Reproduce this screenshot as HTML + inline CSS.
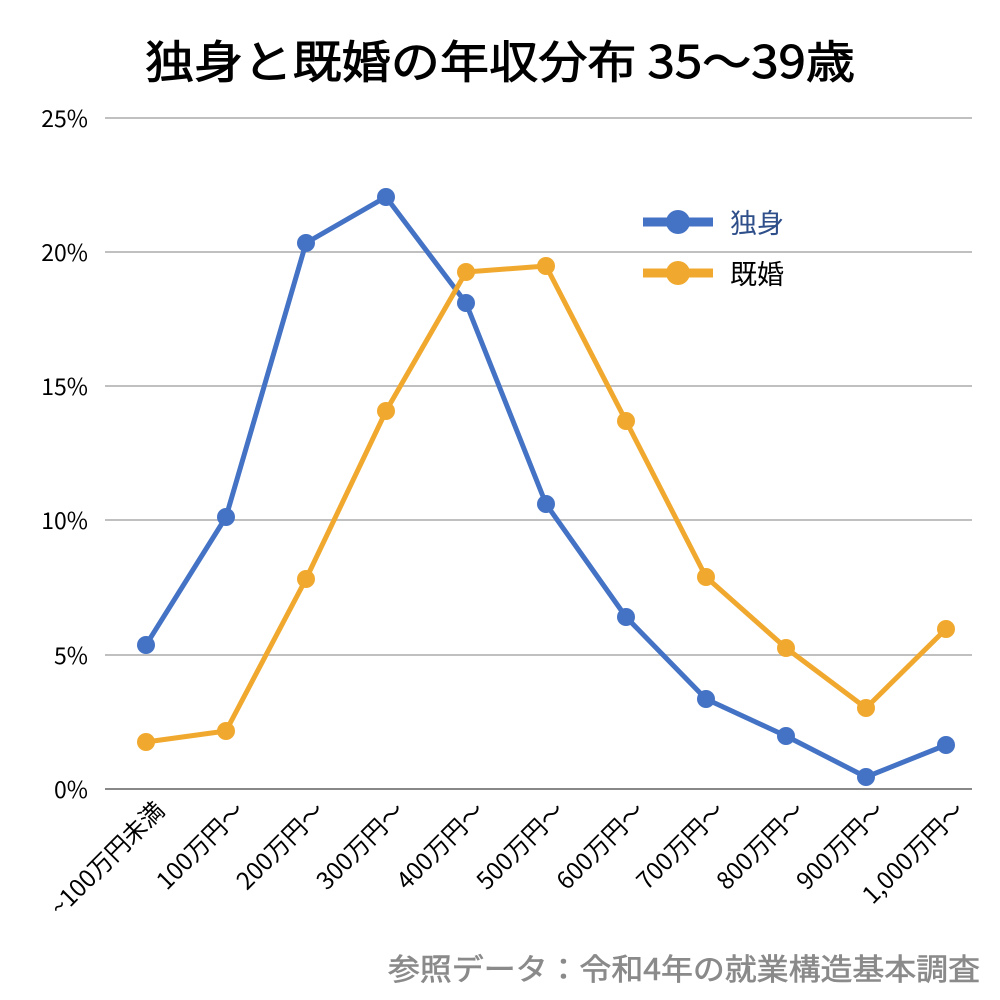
<!DOCTYPE html>
<html><head><meta charset="utf-8"><style>body{margin:0;background:#fff}svg{display:block}text{font-family:"Noto Sans CJK JP","Liberation Sans",sans-serif}</style></head><body>
<svg width="1000" height="1000" viewBox="0 0 1000 1000">
<text x="145" y="78" font-size="45" fill="#000" stroke="#000" stroke-width="0.9" textLength="710" lengthAdjust="spacingAndGlyphs">独身と既婚の年収分布  35〜39歳</text>
<g stroke="#c0c0c0" stroke-width="2">
<line x1="105" y1="118" x2="972" y2="118"/><line x1="105" y1="252" x2="972" y2="252"/><line x1="105" y1="386" x2="972" y2="386"/><line x1="105" y1="520" x2="972" y2="520"/><line x1="105" y1="655" x2="972" y2="655"/>
</g>
<line x1="105" y1="789" x2="972" y2="789" stroke="#888" stroke-width="2"/>
<g font-size="23" text-anchor="end" fill="#000">
<text x="88" y="127">25%</text><text x="88" y="261">20%</text><text x="88" y="395">15%</text><text x="88" y="529">10%</text><text x="88" y="664">5%</text><text x="88" y="798">0%</text>
</g>
<g font-size="24" text-anchor="end" fill="#000">
<text transform="translate(166,812) rotate(-45)">~100万円未満</text>
<text transform="translate(246,812) rotate(-45)">100万円～</text>
<text transform="translate(326,812) rotate(-45)">200万円～</text>
<text transform="translate(406,812) rotate(-45)">300万円～</text>
<text transform="translate(486,812) rotate(-45)">400万円～</text>
<text transform="translate(566,812) rotate(-45)">500万円～</text>
<text transform="translate(646,812) rotate(-45)">600万円～</text>
<text transform="translate(726,812) rotate(-45)">700万円～</text>
<text transform="translate(806,812) rotate(-45)">800万円～</text>
<text transform="translate(886,812) rotate(-45)">900万円～</text>
<text transform="translate(966,812) rotate(-45)">1,000万円～</text>
</g>
<polyline fill="none" stroke="#4472c4" stroke-width="5" stroke-linejoin="round" points="146,645 226,517 306,243 386,197 466,303 546,504 626,617 706,699 786,736 866,777 946,745"/>
<g fill="#4472c4"><circle cx="146" cy="645" r="9"/><circle cx="226" cy="517" r="9"/><circle cx="306" cy="243" r="9"/><circle cx="386" cy="197" r="9"/><circle cx="466" cy="303" r="9"/><circle cx="546" cy="504" r="9"/><circle cx="626" cy="617" r="9"/><circle cx="706" cy="699" r="9"/><circle cx="786" cy="736" r="9"/><circle cx="866" cy="777" r="9"/><circle cx="946" cy="745" r="9"/></g>
<polyline fill="none" stroke="#f0a92e" stroke-width="5" stroke-linejoin="round" points="146,742 226,731 306,579 386,411 466,272 546,266 626,421 706,577 786,648 866,708 946,629"/>
<g fill="#f0a92e"><circle cx="146" cy="742" r="9"/><circle cx="226" cy="731" r="9"/><circle cx="306" cy="579" r="9"/><circle cx="386" cy="411" r="9"/><circle cx="466" cy="272" r="9"/><circle cx="546" cy="266" r="9"/><circle cx="626" cy="421" r="9"/><circle cx="706" cy="577" r="9"/><circle cx="786" cy="648" r="9"/><circle cx="866" cy="708" r="9"/><circle cx="946" cy="629" r="9"/></g>
<line x1="643" y1="222" x2="713" y2="222" stroke="#4472c4" stroke-width="9"/><circle cx="678" cy="222" r="12" fill="#4472c4"/>
<text x="730" y="233" font-size="27" fill="#2f4f8a">独身</text>
<line x1="643" y1="273" x2="713" y2="273" stroke="#f0a92e" stroke-width="9"/><circle cx="678" cy="273" r="12" fill="#f0a92e"/>
<text x="730" y="284" font-size="27" fill="#000">既婚</text>
<text x="388" y="980" font-size="30" fill="#8a8a8a" stroke="#8a8a8a" stroke-width="0.6" textLength="592" lengthAdjust="spacingAndGlyphs">参照データ：令和4年の就業構造基本調査</text>
</svg>
</body></html>
